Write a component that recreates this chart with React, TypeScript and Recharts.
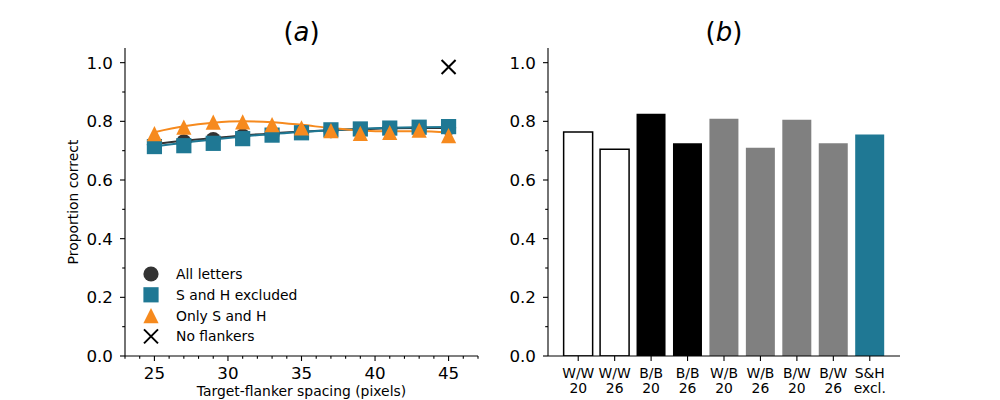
import React from 'react';
import { ComposedChart, Scatter, Line, XAxis, YAxis, Legend, BarChart, Bar, Cell } from 'recharts';

// Panel (a): proportion correct by target-flanker spacing
const spacing = [25, 27, 29, 31, 33, 35, 37, 39, 41, 43, 45];
const allLetters = [0.72, 0.73, 0.738, 0.75, 0.757, 0.763, 0.768, 0.772, 0.775, 0.777, 0.778];
const shExcluded = [0.714, 0.717, 0.725, 0.741, 0.753, 0.761, 0.771, 0.774, 0.777, 0.78, 0.782];
const onlySH = [0.758, 0.78, 0.797, 0.798, 0.789, 0.778, 0.768, 0.759, 0.762, 0.77, 0.751];
// fitted curves through each group
const allLettersFit = [0.723, 0.734, 0.743, 0.752, 0.759, 0.765, 0.77, 0.773, 0.776, 0.777, 0.777];
const shExcludedFit = [0.714, 0.727, 0.738, 0.748, 0.757, 0.764, 0.77, 0.775, 0.778, 0.78, 0.781];
const onlySHFit = [0.763, 0.783, 0.795, 0.8, 0.797, 0.788, 0.777, 0.769, 0.766, 0.766, 0.762];
const noFlankerSpacing = [45];
const noFlankerProp = [0.985];

const spacingTicks = [23, 24, 25, 26, 27, 28, 29, 30, 31, 32, 33, 34, 35, 36, 37, 38, 39, 40, 41, 42, 43, 44, 45, 46, 47];
const propTicks = [0, 0.1, 0.2, 0.3, 0.4, 0.5, 0.6, 0.7, 0.8, 0.9, 1.0];

// Panel (b): colour conditions
const conditions = ['W/W', 'W/W', 'B/B', 'B/B', 'W/B', 'W/B', 'B/W', 'B/W', 'S&H'];
const conditionSub = ['20', '26', '20', '26', '20', '26', '20', '26', 'excl.'];
const conditionProp = [0.764, 0.705, 0.826, 0.725, 0.809, 0.71, 0.805, 0.725, 0.755];

const FONT = 'DejaVu Sans';
const DARK = '#333333';
const TEAL = '#1f7894';
const ORANGE = '#f68a1e';
const GREY = '#808080';
const M = 7.6; // half marker size

const pts = (xs: number[], ys: number[]) => xs.map((x, i) => ({ x, y: ys[i] }));

const CircleMark = ({ cx, cy }: any) => <circle cx={cx} cy={cy} r={M} fill={DARK} />;
const SquareMark = ({ cx, cy }: any) => <rect x={cx - M} y={cy - M} width={2 * M} height={2 * M} fill={TEAL} />;
const TriangleMark = ({ cx, cy }: any) => (
  <path d={`M${cx},${cy - M}L${cx + M},${cy + M}L${cx - M},${cy + M}Z`} fill={ORANGE} />
);
const CrossMark = ({ cx, cy }: any) => (
  <path d={`M${cx - 7},${cy - 7}L${cx + 7},${cy + 7}M${cx - 7},${cy + 7}L${cx + 7},${cy - 7}`} stroke="#000" strokeWidth={2} fill="none" />
);

const legendRows = [
  { name: 'All letters', Mark: CircleMark },
  { name: 'S and H excluded', Mark: SquareMark },
  { name: 'Only S and H', Mark: TriangleMark },
  { name: 'No flankers', Mark: CrossMark },
];

const barFill = (cond: string) => {
  if (cond === 'W/W') return '#ffffff';
  if (cond === 'B/B') return '#000000';
  if (cond === 'S&H') return TEAL;
  return GREY;
};

const YTick = ({ x, y, payload }: any) => {
  const major = Math.round(payload.value * 10) % 2 === 0;
  return (
    <g>
      <line x1={x - (major ? 5 : 2.8)} x2={x} y1={y} y2={y} stroke="#000" strokeWidth={1.1} />
      {major && (
        <text x={x - 12} y={y} dy="0.36em" textAnchor="end" fontSize={16.7} fontFamily={FONT} fill="#000">
          {payload.value.toFixed(1)}
        </text>
      )}
    </g>
  );
};

const SpacingTick = ({ x, y, payload }: any) => {
  const major = payload.value % 5 === 0;
  return (
    <g>
      <line x1={x} x2={x} y1={y} y2={y + (major ? 5 : 2.8)} stroke="#000" strokeWidth={1.1} />
      {major && (
        <text x={x} y={y + 22.5} textAnchor="middle" fontSize={16.7} fontFamily={FONT} fill="#000">
          {payload.value}
        </text>
      )}
    </g>
  );
};

const ConditionTick = ({ x, y, payload }: any) => {
  const [top, bottom] = String(payload.value).split(' ');
  return (
    <g>
      <line x1={x} x2={x} y1={y} y2={y + 5} stroke="#000" strokeWidth={1.1} />
      <text textAnchor="middle" fontSize={13.9} fontFamily={FONT} fill="#000">
        <tspan x={x} y={y + 21.5}>{top}</tspan>
        <tspan x={x} y={y + 36.8}>{bottom}</tspan>
      </text>
    </g>
  );
};

const LegendBox = () => (
  <svg width={200} height={90}>
    {legendRows.map(({ name, Mark }, i) => {
      const cy = 12 + i * 20.8;
      return (
        <g key={name}>
          <Mark cx={21} cy={cy} />
          <text x={46} y={cy} dy="0.36em" fontSize={13.9} fontFamily={FONT} fill="#000">
            {name}
          </text>
        </g>
      );
    })}
  </svg>
);

const Title = ({ letter, center }: { letter: string; center: number }) => (
  <div
    style={{
      position: 'absolute',
      left: center - 50,
      top: 19,
      width: 100,
      textAlign: 'center',
      fontFamily: FONT,
      fontSize: 26,
      lineHeight: '26px',
    }}
  >
    (<span style={{ fontStyle: 'italic' }}>{letter}</span>)
  </div>
);

const axisLine = { stroke: '#000', strokeWidth: 1.1 };

const SpacingPanel = () => (
  <ComposedChart width={500} height={400} margin={{ top: 48, right: 22, bottom: 14, left: 65 }}>
    <XAxis
      dataKey="x"
      type="number"
      domain={[23, 47]}
      ticks={spacingTicks}
      interval={0}
      allowDataOverflow
      tickLine={false}
      tickSize={0}
      tickMargin={0}
      height={30}
      axisLine={axisLine}
      tick={(p: any) => <SpacingTick {...p} />}
      label={({ viewBox }: any) => (
        <text x={viewBox.x + viewBox.width / 2} y={viewBox.y + 40} textAnchor="middle" fontSize={13.9} fontFamily={FONT} fill="#000">
          Target-flanker spacing (pixels)
        </text>
      )}
    />
    <YAxis
      dataKey="y"
      type="number"
      domain={[0, 1.05]}
      ticks={propTicks}
      interval={0}
      allowDataOverflow
      tickLine={false}
      tickSize={0}
      tickMargin={0}
      width={60}
      axisLine={axisLine}
      tick={(p: any) => <YTick {...p} />}
      label={({ viewBox }: any) => {
        const cx = viewBox.x + 8;
        const cy = viewBox.y + viewBox.height / 2;
        return (
          <text x={cx} y={cy} transform={`rotate(-90 ${cx} ${cy})`} textAnchor="middle" dy="0.36em" fontSize={13.9} fontFamily={FONT} fill="#000">
            Proportion correct
          </text>
        );
      }}
    />
    <Scatter name="All letters" data={pts(spacing, allLetters)} shape={CircleMark} isAnimationActive={false} />
    <Scatter name="S and H excluded" data={pts(spacing, shExcluded)} shape={SquareMark} isAnimationActive={false} />
    <Scatter name="Only S and H" data={pts(spacing, onlySH)} shape={TriangleMark} isAnimationActive={false} />
    <Scatter name="No flankers" data={pts(noFlankerSpacing, noFlankerProp)} shape={CrossMark} isAnimationActive={false} />
    <Line data={pts(spacing, allLettersFit)} dataKey="y" type="monotone" stroke={DARK} strokeWidth={2} dot={false} legendType="none" isAnimationActive={false} />
    <Line data={pts(spacing, shExcludedFit)} dataKey="y" type="monotone" stroke={TEAL} strokeWidth={2} dot={false} legendType="none" isAnimationActive={false} />
    <Line data={pts(spacing, onlySHFit)} dataKey="y" type="monotone" stroke={ORANGE} strokeWidth={2} dot={false} legendType="none" isAnimationActive={false} />
    <Legend
      layout="horizontal"
      verticalAlign="middle"
      align="center"
      wrapperStyle={{ left: 130, top: 262, width: 200, height: 90 }}
      content={() => <LegendBox />}
    />
  </ComposedChart>
);

const barRows = conditions.map((c, i) => ({ key: `${c} ${conditionSub[i]}`, cond: c, value: conditionProp[i] }));

const ConditionPanel = () => (
  <BarChart width={500} height={400} data={barRows} barCategoryGap="10%" margin={{ top: 48, right: 50, bottom: 14, left: 38 }}>
    <XAxis
      dataKey="key"
      interval={0}
      padding={{ left: 12, right: 12 }}
      tickLine={false}
      tickSize={0}
      tickMargin={0}
      height={30}
      axisLine={axisLine}
      tick={(p: any) => <ConditionTick {...p} />}
    />
    <YAxis
      type="number"
      domain={[0, 1.05]}
      ticks={propTicks}
      interval={0}
      allowDataOverflow
      tickLine={false}
      tickSize={0}
      tickMargin={0}
      width={60}
      axisLine={axisLine}
      tick={(p: any) => <YTick {...p} />}
    />
    <Bar dataKey="value" isAnimationActive={false}>
      {barRows.map((r) => (
        <Cell
          key={r.key}
          fill={barFill(r.cond)}
          stroke={r.cond === 'W/W' ? '#000' : 'none'}
          strokeWidth={1.5}
        />
      ))}
    </Bar>
  </BarChart>
);

export default function App() {
  return (
    <div style={{ position: 'absolute', left: 0, top: 0, width: 1000, height: 400, background: '#fff', fontFamily: FONT }}>
      <div style={{ position: 'absolute', left: 0, top: 0 }}>
        <SpacingPanel />
      </div>
      <div style={{ position: 'absolute', left: 450, top: 0 }}>
        <ConditionPanel />
      </div>
      <Title letter="a" center={301.5} />
      <Title letter="b" center={724} />
    </div>
  );
}
